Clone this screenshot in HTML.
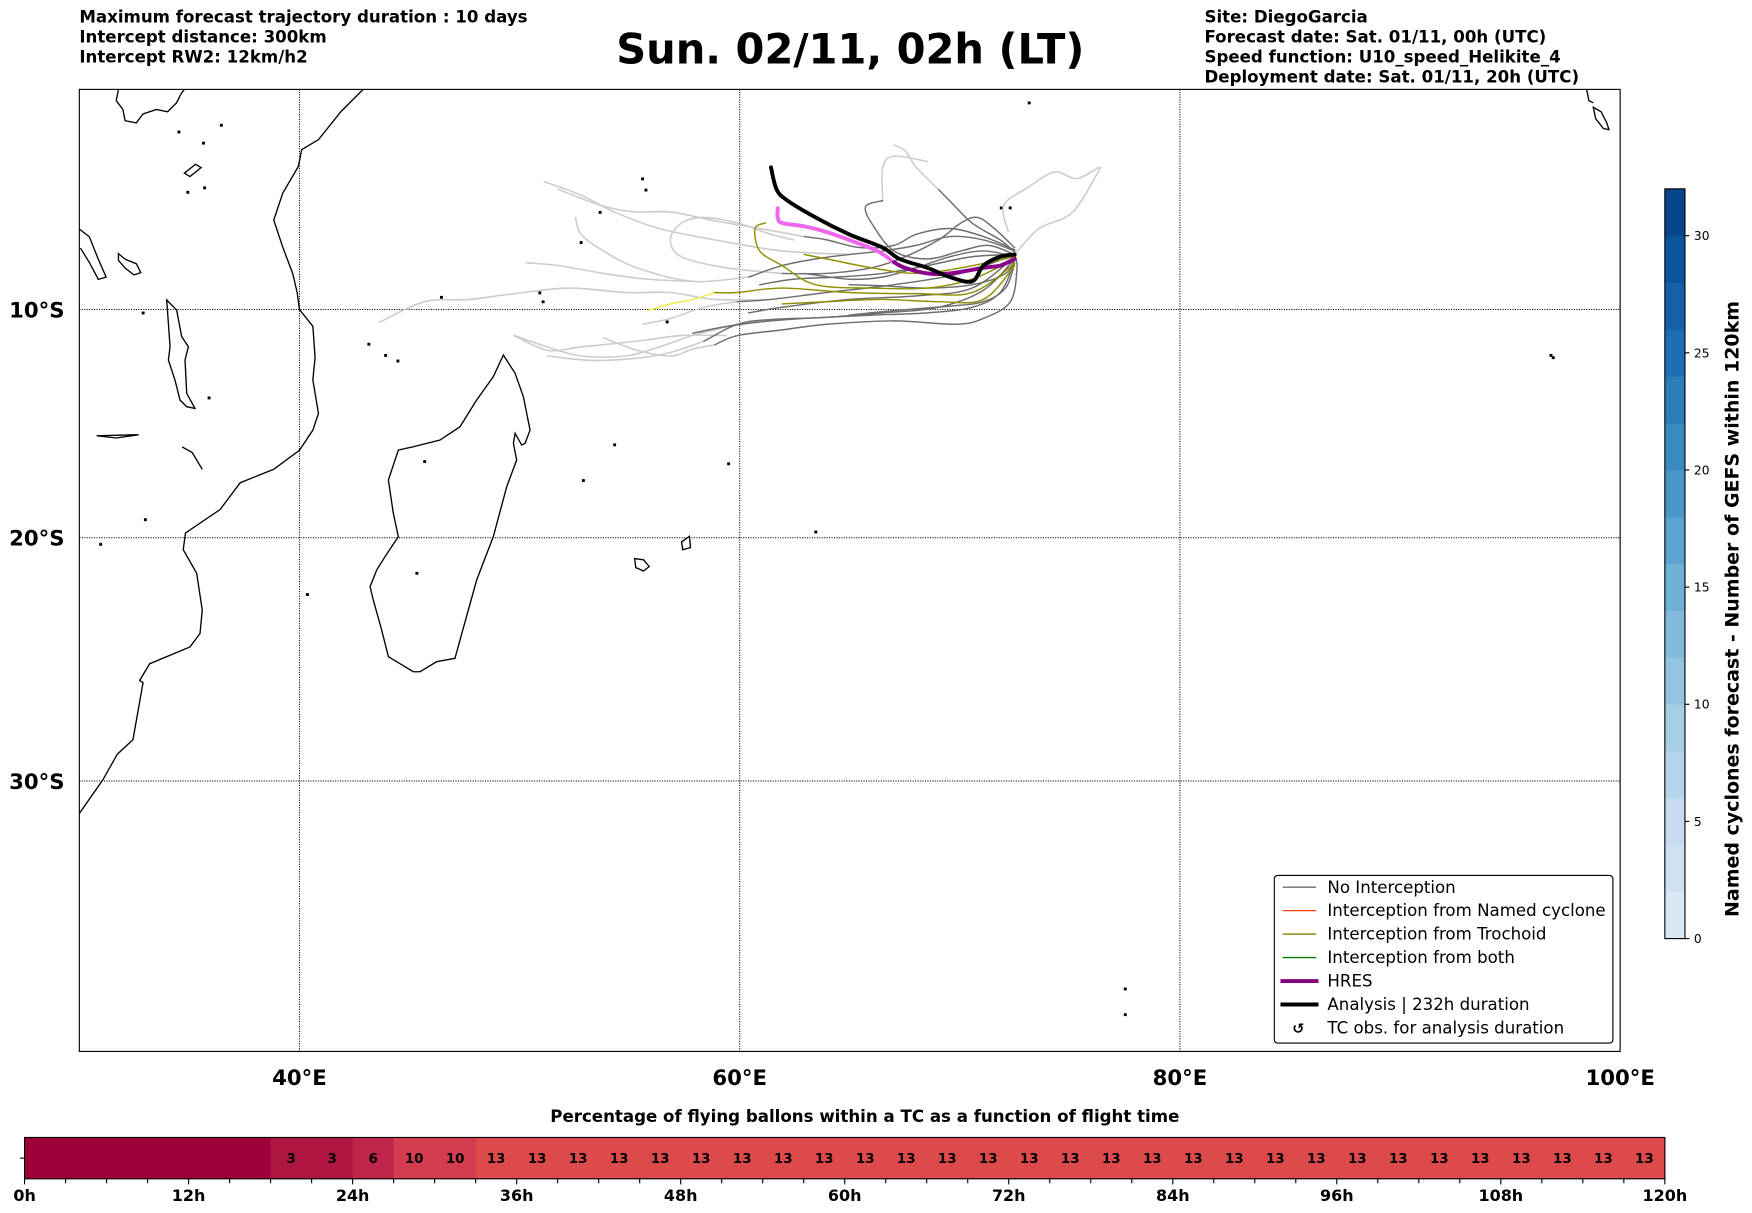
<!DOCTYPE html>
<html><head><meta charset="utf-8"><style>
html,body{margin:0;padding:0;background:#fff;}
svg{display:block;font-family:"DejaVu Sans","Liberation Sans",sans-serif;}
</style></head><body>
<svg id="fig" width="1752" height="1213" viewBox="0 0 1568 1085.6" xmlns="http://www.w3.org/2000/svg">
<g font-weight="bold" font-size="14.9">
<text x="71" y="20">Maximum forecast trajectory duration : 10 days</text>
<text x="71" y="38">Intercept distance: 300km</text>
<text x="71" y="56">Intercept RW2: 12km/h2</text>
</g>
<text x="761" y="57" text-anchor="middle" font-weight="bold" font-size="37.2">Sun. 02/11, 02h (LT)</text>
<g font-weight="bold" font-size="14.9">
<text x="1078" y="20">Site: DiegoGarcia</text>
<text x="1078" y="38">Forecast date: Sat. 01/11, 00h (UTC)</text>
<text x="1078" y="56">Speed function: U10_speed_Helikite_4</text>
<text x="1078" y="74">Deployment date: Sat. 01/11, 20h (UTC)</text>
</g>
<defs><clipPath id="mapclip"><rect x="71" y="80" width="1379" height="861"/></clipPath></defs>
<g id="map"></g>
<rect x="71" y="80" width="1379" height="861" fill="none" stroke="#000" stroke-width="1"/>
<g id="axes" font-weight="bold" font-size="19"></g>
<g font-size="14.9">
<rect x="1140.5" y="783.5" width="303" height="150" rx="3" fill="#fff" stroke="#000" stroke-width="1"/>
<g><line x1="1148" y1="794" x2="1178" y2="794" stroke="#6b6b6b" stroke-width="1.2"/><text x="1188" y="799">No Interception</text></g>
<g><line x1="1148" y1="815" x2="1178" y2="815" stroke="#ff4500" stroke-width="1.2"/><text x="1188" y="820">Interception from Named cyclone</text></g>
<g><line x1="1148" y1="836" x2="1178" y2="836" stroke="#808000" stroke-width="1.2"/><text x="1188" y="841">Interception from Trochoid</text></g>
<g><line x1="1148" y1="857" x2="1178" y2="857" stroke="#008000" stroke-width="1.2"/><text x="1188" y="862">Interception from both</text></g>
<g><line x1="1146" y1="878" x2="1180" y2="878" stroke="#800080" stroke-width="3.5"/><text x="1188" y="883">HRES</text></g>
<g><line x1="1146" y1="899" x2="1180" y2="899" stroke="#000" stroke-width="3.5"/><text x="1188" y="904">Analysis | 232h duration</text></g>
<g><text x="1162" y="925" text-anchor="middle" font-weight="bold" font-size="13">↺</text><text x="1188" y="925">TC obs. for analysis duration</text></g>
</g>
<g id="cbar" font-size="11"></g>
<text transform="translate(1556,545) rotate(-90)" text-anchor="middle" font-weight="bold" font-size="17">Named cyclones forecast - Number of GEFS within 120km</text>
<text x="774" y="1004" text-anchor="middle" font-weight="bold" font-size="14.9">Percentage of flying ballons within a TC as a function of flight time</text>
<g id="tbar" font-weight="bold"></g>
</svg>
<script>
// ---------- data ----------
const lonTicks = [40, 60, 80, 100];
const latTicks = [10, 20, 30];
const analysisTrack = [[72.49,-7.53],[71.83,-7.63],[71.07,-8.03],[70.56,-8.74],[69.54,-8.54],[68.53,-8.13],[67.26,-7.73],[66.50,-7.22],[64.97,-6.62],[63.45,-5.86],[62.18,-5.10],[61.68,-4.60],[61.42,-3.59]];
const hresTrack = [[72.49,-7.73],[71.83,-8.03],[71.07,-8.13],[69.54,-8.38],[68.53,-8.38],[67.51,-8.13],[67.01,-7.88]];
const hresLateTrack = [[67.01,-7.88],[66.25,-7.37],[64.97,-6.87],[63.96,-6.52],[62.94,-6.26],[61.93,-6.11],[61.73,-5.86],[61.73,-5.45]];
const noInterceptTracks = [
[[72.49,-7.53],[70.05,-8.38],[67.01,-8.89],[63.96,-9.24],[61.42,-9.55],[59.90,-9.65]],
[[72.49,-7.63],[70.56,-9.04],[68.02,-9.39],[64.97,-9.55],[61.93,-9.90],[60.41,-10.15]],
[[72.49,-7.53],[72.6,-8.13],[72.3,-9.65],[71.07,-10.40],[69.8,-10.66],[67.01,-10.51],[63.96,-10.66],[61.93,-10.91],[59.90,-11.16],[58.88,-11.57]],
[[72.49,-7.37],[71.07,-6.87],[69.54,-6.72],[68.02,-7.12],[66.50,-7.37],[64.97,-7.53],[63.45,-7.73],[61.93,-8.03],[60.41,-8.54]],
[[72.49,-7.22],[71.57,-6.36],[70.8,-5.86],[70.05,-6.11],[69.04,-6.87],[67.51,-7.63],[65.99,-8.13],[63.96,-8.38],[61.93,-8.38]],
[[72.49,-7.53],[71.3,-7.12],[70.05,-7.37],[68.53,-7.73],[67.01,-7.37],[65.99,-6.11],[65.73,-5.35],[66.50,-5.10]],
[[72.49,-7.63],[72.08,-8.38],[70.56,-8.89],[68.53,-9.04],[66.50,-8.94],[64.97,-8.89]],
[[72.49,-7.42],[71.83,-6.87],[70.56,-6.11],[69.54,-5.10],[69.04,-4.60]],
[[72.49,-7.73],[71.07,-9.14],[69.04,-9.90],[66.50,-10.15],[63.96,-10.35],[61.42,-10.45],[59.90,-10.66],[58.38,-11.41]],
[[72.49,-7.53],[70.56,-7.63],[68.53,-8.03],[66.50,-8.38],[64.47,-8.54],[62.44,-8.64],[60.91,-8.89]],
[[72.49,-7.32],[71.07,-6.72],[69.54,-6.36],[68.02,-6.62],[67.01,-7.12],[65.48,-7.22],[63.96,-6.87],[62.94,-6.72]],
[[72.49,-7.83],[71.83,-9.24],[70.56,-9.90],[68.53,-10.15],[65.99,-10.25],[62.94,-10.40],[60.91,-10.56],[59.39,-10.76],[57.87,-11.06]],
[[72.49,-7.93],[72.08,-9.04],[71.07,-9.65],[69.54,-9.85],[67.01,-10.05],[64.97,-10.25]],
[[72.49,-7.63],[71.07,-7.37],[69.54,-7.63],[68.02,-8.13],[66.50,-8.54],[64.97,-8.64],[62.94,-8.38]]
];
const lateTracks = [
[[61.42,-9.55],[58.88,-9.55],[56.85,-9.24],[54.82,-9.24],[52.28,-9.04],[49.75,-9.29],[47.72,-9.55],[45.69,-9.65],[43.65,-10.56]],
[[59.90,-10.66],[57.87,-11.16],[56.34,-11.67],[54.82,-12.07],[52.79,-12.07],[51.27,-11.67],[49.75,-11.16]],
[[61.93,-8.38],[59.39,-8.13],[57.36,-7.63],[56.85,-6.87],[57.36,-6.11],[58.38,-5.86],[59.90,-6.11],[61.42,-6.62],[62.44,-6.87]],
[[64.97,-7.53],[61.93,-7.37],[58.88,-6.87],[56.34,-6.36],[54.3,-5.61],[52.79,-4.85],[51.12,-4.24]],
[[62.94,-6.72],[60.91,-6.36],[58.88,-6.01],[56.85,-5.61],[55.33,-5.61],[53.81,-5.35],[51.78,-4.60]],
[[60.41,-8.54],[57.87,-8.74],[55.33,-8.13],[53.81,-7.37],[52.79,-6.62],[52.54,-5.86]],
[[58.88,-11.57],[57.87,-11.77],[56.85,-12.07],[55.33,-11.82],[53.81,-11.26]],
[[72.49,-7.53],[73.6,-6.36],[75.13,-5.61],[76.40,-3.59]],
[[72.2,-6.5],[72.0,-5.3],[73.1,-4.5],[74.3,-3.8],[75.3,-4.1],[76.3,-3.6]],
[[69.04,-4.60],[68.02,-3.59],[67.51,-2.83],[67.01,-2.58]],
[[66.50,-5.10],[66.50,-3.59],[67.01,-3.08],[68.53,-3.33]],
[[59.39,-11.16],[57.36,-11.16],[55.33,-11.41],[52.79,-11.67],[51.27,-11.82],[49.75,-11.16]],
[[58.38,-11.41],[56.85,-11.92],[55.33,-12.17],[53.3,-12.27],[51.27,-12.07]],
[[59.90,-9.65],[58.38,-9.90],[56.85,-10.40],[55.6,-10.66]],
[[57.87,-8.74],[55.84,-8.64],[53.81,-8.38],[51.78,-8.03],[50.3,-7.9]]
];
const trochoidTracks = [
[[72.49,-7.73],[70.56,-8.64],[68.53,-9.04],[65.99,-9.04],[63.45,-8.89],[61.93,-8.03],[60.91,-7.37],[60.7,-6.36],[61.17,-6.11]],
[[72.49,-7.93],[70.56,-9.24],[68.02,-9.29],[64.97,-9.24],[61.93,-9.04],[59.90,-9.24],[58.88,-9.24]],
[[72.49,-8.03],[71.07,-9.55],[69.04,-9.65],[66.50,-9.55],[63.96,-9.65],[61.93,-9.75]],
[[72.49,-7.63],[70.05,-8.13],[68.02,-8.38],[65.99,-8.13],[63.96,-7.73],[62.94,-7.53]]
];
const trochoidLateTrack = [[58.88,-9.24],[57.87,-9.55],[56.85,-9.75],[55.84,-10.05]];
const cbarTicks = [0, 5, 10, 15, 20, 25, 30];
const cbarMax = 32;
const hourTicks = [0, 12, 24, 36, 48, 60, 72, 84, 96, 108, 120];
const pctValues = [0,0,0,0,0,0,3,3,6,10,10,13,13,13,13,13,13,13,13,13,13,13,13,13,13,13,13,13,13,13,13,13,13,13,13,13,13,13,13,13];

// ---------- scales ----------
const NS = 'http://www.w3.org/2000/svg';
function X(lon){ return 71 + (lon - 30) * 19.7; }
function Y(lat){ const s = -lat * Math.PI / 180; return 79 + 1128.7 * Math.log(Math.tan(Math.PI/4 + s/2)); }
function mk(tag, attrs, parent){ const e = document.createElementNS(NS, tag); for (const k in attrs) e.setAttribute(k, attrs[k]); parent.appendChild(e); return e; }
function smooth(pts){
  const P = pts.map(p=>[X(p[0]),Y(p[1])]);
  let d = 'M'+P[0][0].toFixed(1)+' '+P[0][1].toFixed(1);
  for (let i=0;i<P.length-1;i++){
    const p0=P[Math.max(0,i-1)], p1=P[i], p2=P[i+1], p3=P[Math.min(P.length-1,i+2)];
    const c1=[p1[0]+(p2[0]-p0[0])/6, p1[1]+(p2[1]-p0[1])/6];
    const c2=[p2[0]-(p3[0]-p1[0])/6, p2[1]-(p3[1]-p1[1])/6];
    d+=' C'+c1[0].toFixed(1)+' '+c1[1].toFixed(1)+' '+c2[0].toFixed(1)+' '+c2[1].toFixed(1)+' '+p2[0].toFixed(1)+' '+p2[1].toFixed(1);
  }
  return d;
}

const map = document.getElementById('map');
const clipG = mk('g', {'clip-path':'url(#mapclip)'}, map);

const coasts = [
 "M325 80 L305 100 L285 125 L270 134 L267 149 L253 173 L245 197 L253 221 L262 245 L266 262 L268 277 L280 292 L282 320 L280 340 L285 370 L280 385 L268 403 L245 420 L215 432 L197 456 L166 477 L164 492 L176 513 L181 546 L179 567 L170 579 L134 594 L125 609 L128 611 L119 662 L105 675 L92 698 L71 728",
 "M450.5 317.7 L461 334.1 L468.4 355 L474.4 384.9 L469.9 396.8 L466.9 398.3 L461 387.8 L459.5 396.8 L462.4 411.7 L453.5 435.6 L441.5 480.3 L426.6 519.1 L411.7 572.8 L407.2 589.2 L390.8 592.2 L375.9 601.2 L369.9 601.2 L355 592.2 L347.6 587.7 L341.6 563.9 L334.1 537 L331.2 525.1 L337.1 510.2 L344.6 498.2 L356.5 480.3 L352 459.4 L347.6 429.6 L356.5 402.8 L369.9 399.8 L393.8 393.8 L411.7 381.9 L426.6 358 L441.5 337.1 Z",
 "M149.2 268.5 L158.1 277.5 L162.6 301.3 L168.6 310.3 L165.6 322.2 L167.1 352 L174.5 365.5 L167.1 364 L161.1 358 L156.6 340.1 L150.7 322.2 L152.2 310.3 Z",
 "M71 205 L80 212 L88 232 L95 248 L88 250 L80 235 L72 222",
 "M86.5 390 L124 389 L104 392 Z",
 "M163 400 L172 405 L181 420",
 "M106 80 L104 90 L110 98 L112 108 L122 110 L128 102 L140 98 L150 100 L158 92 L162 84 L165 80",
 "M106 227 L112 232 L122 236 L126 244 L120 246 L112 240 L106 233 Z",
 "M1426 96 L1433 100 L1438 110 L1440 116 L1435 115 L1428 106 Z",
 "M1420 80 L1422 90 L1426 92",
 "M568 500 L576 501 L581 507 L576 511 L569 508 Z",
 "M610 485 L617 480 L618 490 L611 492 Z",
 "M165 155 L175 147 L180 150 L170 158 Z"
];
coasts.forEach(d=>{ const e=mk('path',{d:d,fill:'none',stroke:'#000','stroke-width':'1.2'},clipG);

 });
const dots = [[575,160],[578,170],[537,190],[520,217],[395,266],[483,262],[486,270],[597,288],[652,415],[730,476],[1388,318],[1390,320],[921,92],[896,186],[904,186],[330,308],[345,318],[356,323],[380,413],[187,356],[130,465],[90,487],[275,532],[373,513],[1007,885],[1007,908],[550,398],[522,430],[128,280],[160,118],[168,172],[183,168],[182,128],[198,112]];
dots.forEach(p=>{ const e=mk('rect',{x:p[0]-1.2,y:p[1]-1.2,width:2.6,height:2.6,fill:'#000'},clipG);

 });

const grid = mk('g',{},clipG);
lonTicks.forEach(l=>{ const e=mk('line',{x1:X(l),x2:X(l),y1:80,y2:941,stroke:'#000','stroke-width':'0.9','stroke-dasharray':'1 1.2'},grid);

 });
latTicks.forEach(l=>{ const e=mk('line',{x1:71,x2:1450,y1:Y(-l),y2:Y(-l),stroke:'#000','stroke-width':'0.9','stroke-dasharray':'1 1.2'},grid);

 });

function drawTrack(pts, color, w, name){
  const e = mk('path',{d:smooth(pts),fill:'none',stroke:color,'stroke-width':w,'stroke-linejoin':'round','stroke-linecap':'round'},clipG);
  
  
}
lateTracks.forEach(t=>drawTrack(t,'#cccccc',1.4,'late-trajectory'));
drawTrack(trochoidLateTrack,'#eeee55',1.4,'trochoid-late-trajectory');
noInterceptTracks.forEach(t=>drawTrack(t,'#6e6e6e',1.3,'no-interception-trajectory'));
trochoidTracks.forEach(t=>drawTrack(t,'#8f8f00',1.3,'trochoid-trajectory'));
drawTrack(hresLateTrack,'#ee66ee',3.5,'hres-late-trajectory');
drawTrack(hresTrack,'#8b008b',3.5,'hres-trajectory');
drawTrack(analysisTrack,'#000000',3.5,'analysis-trajectory');

const axes = document.getElementById('axes');
lonTicks.forEach(l=>{ const e=mk('text',{x:X(l),y:971,'text-anchor':'middle'},axes); e.textContent=l+'°E';

 });
latTicks.forEach(l=>{ const e=mk('text',{x:33,y:Y(-l)+7,'text-anchor':'middle'},axes); e.textContent=l+'°S';

 });

const cbar = document.getElementById('cbar');
const blues = ['#dae8f6','#d0e1f2','#c6dbef','#b6d4e9','#a6cee4','#94c4df','#82badb','#6fb0d7','#5ba3d0','#4a97c9','#3a8ac2','#2d7dbb','#1f6eb3','#1561a9','#0b539a','#08468b'];
const cTop=169, cBot=840, cX=1490, cW=18;
function CY(v){ return cBot - (v/cbarMax)*(cBot-cTop); }
blues.forEach((c,i)=>{ const e=mk('rect',{x:cX,y:CY((i+1)*2),width:cW,height:CY(i*2)-CY((i+1)*2)+0.4,fill:c},cbar);

 });
mk('rect',{x:cX,y:cTop,width:cW,height:cBot-cTop,fill:'none',stroke:'#000','stroke-width':'1'},cbar);
cbarTicks.forEach(v=>{ mk('line',{x1:cX+cW,x2:cX+cW+4,y1:CY(v),y2:CY(v),stroke:'#000'},cbar);
const e=mk('text',{x:cX+cW+8,y:CY(v)+4},cbar); e.textContent=v;

 });

const tbar = document.getElementById('tbar');
const bX0=22, bX1=1490, bY0=1018, bY1=1055;
function TX(h){ return bX0 + (h/120)*(bX1-bX0); }
function pctColor(v){ return v===0?'#9e003a':v<=3?'#ae1642':v<=6?'#bf2548':v<=10?'#d43d50':'#dd4a4c'; }
pctValues.forEach((v,i)=>{ const e=mk('rect',{x:TX(i*3),y:bY0,width:TX(3)-TX(0)+0.5,height:bY1-bY0,fill:pctColor(v)},tbar);


if(v>0){ const t=mk('text',{x:TX(i*3+1.5),y:(bY0+bY1)/2+4.5,'text-anchor':'middle','font-size':'12'},tbar); t.textContent=v;

 } });
mk('rect',{x:bX0,y:bY0,width:bX1-bX0,height:bY1-bY0,fill:'none',stroke:'#000','stroke-width':'1'},tbar);
mk('line',{x1:bX0-4,x2:bX0,y1:(bY0+bY1)/2,y2:(bY0+bY1)/2,stroke:'#000'},tbar);
for(let h=0;h<=120;h+=3){ mk('line',{x1:TX(h),x2:TX(h),y1:bY1,y2:bY1+(h%12===0?5:4),stroke:'#000','stroke-width':'1'},tbar); }
hourTicks.forEach(h=>{ const e=mk('text',{x:TX(h),y:1075,'text-anchor':'middle','font-size':'14.3'},tbar); e.textContent=h+'h';

 });
</script>
</body></html>
